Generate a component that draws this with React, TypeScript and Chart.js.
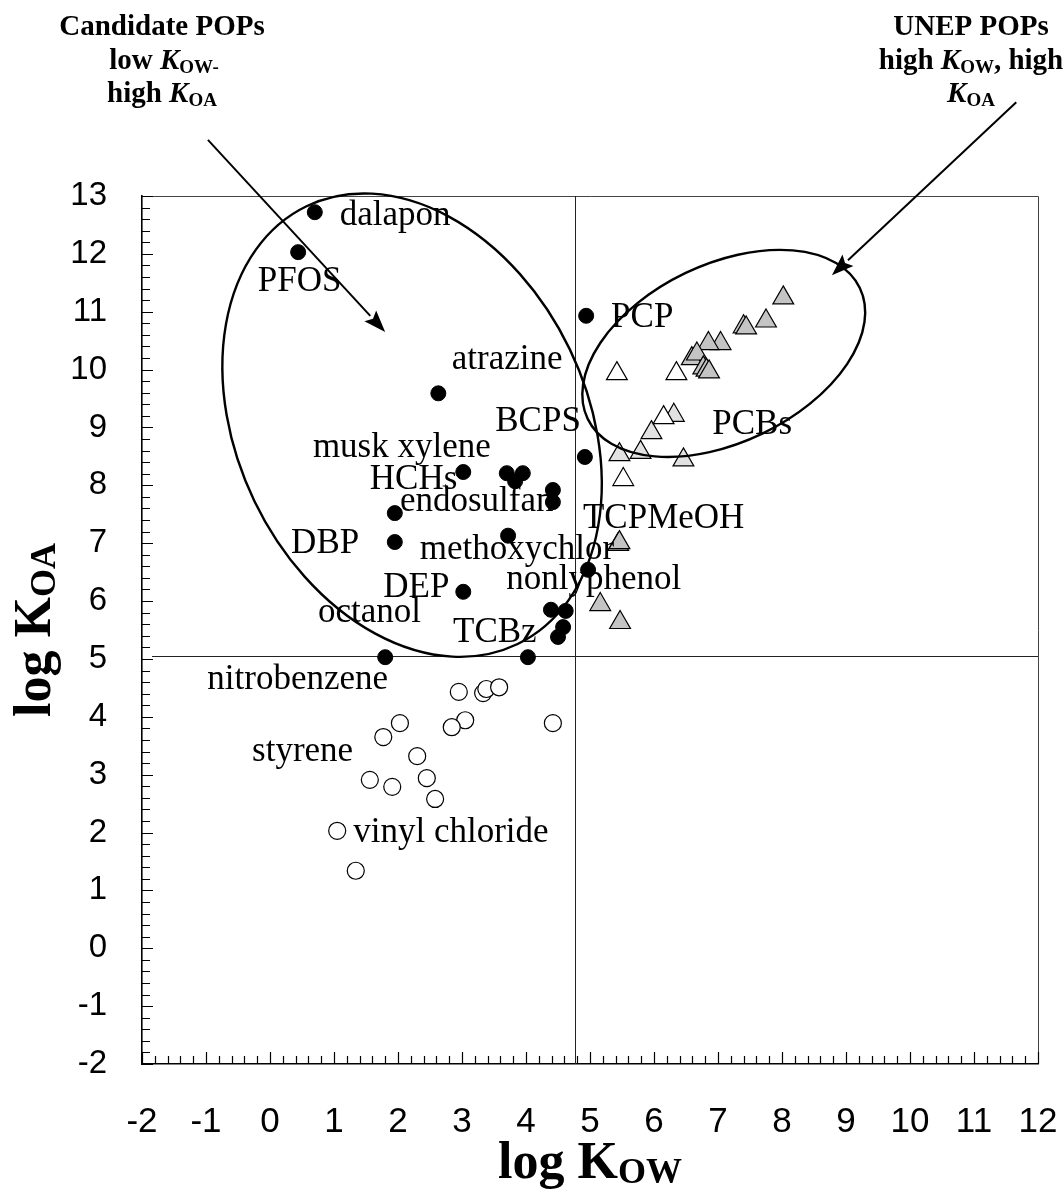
import React, { useEffect, useRef } from "react";
import { Chart, registerables } from "chart.js";
Chart.register(...registerables);

// ---- axis ticks ----
const xTicks = [-2, -1, 0, 1, 2, 3, 4, 5, 6, 7, 8, 9, 10, 11, 12];
const yTicks = [-2, -1, 0, 1, 2, 3, 4, 5, 6, 7, 8, 9, 10, 11, 12, 13];

// ---- candidate POPs (filled circles) ----
const filledX = [0.70, 0.44, 4.94, 2.63, 4.92, 3.02, 3.70, 3.83, 3.95, 4.42, 4.42, 1.95, 1.95, 3.72, 4.97, 3.02, 4.39, 4.62, 4.58, 4.50, 1.80, 4.03];
const filledY = [12.72, 12.03, 10.93, 9.59, 8.49, 8.23, 8.21, 8.07, 8.21, 7.92, 7.71, 7.52, 7.02, 7.13, 6.54, 6.16, 5.85, 5.83, 5.55, 5.38, 5.03, 5.03];

// ---- volatile chemicals (open circles) ----
const openX = [2.95, 3.33, 3.38, 3.58, 4.42, 2.03, 1.77, 3.05, 2.84, 2.30, 1.56, 1.91, 2.45, 2.58, 1.05, 1.34];
const openY = [4.43, 4.41, 4.48, 4.51, 3.89, 3.89, 3.65, 3.94, 3.82, 3.32, 2.91, 2.79, 2.94, 2.58, 2.03, 1.34];

// ---- PCBs / UNEP POPs (triangles) ----
const triDarkX = [8.02, 7.75, 7.40, 7.44, 7.04, 6.85, 6.59, 6.67, 6.77, 6.82, 6.86, 5.44, 5.46, 5.16, 5.47];
const triDarkY = [11.24, 10.84, 10.74, 10.72, 10.45, 10.45, 10.19, 10.27, 10.03, 9.99, 9.96, 6.98, 7.01, 5.94, 5.63];
const triLightX = [6.31, 5.96, 5.79, 5.46, 6.46];
const triLightY = [9.21, 8.91, 8.57, 8.53, 8.44];
const triWhiteX = [5.42, 6.35, 6.15, 5.52];
const triWhiteY = [9.93, 9.93, 9.17, 8.10];

// ---- text labels (left edge x, middle y, in data units) ----
const labelNames = ["dalapon", "PFOS", "PCP", "atrazine", "BCPS", "musk xylene", "HCHs", "endosulfan", "DBP", "methoxychlor", "nonlyphenol", "DEP", "octanol", "TCBz", "TCPMeOH", "PCBs", "nitrobenzene", "styrene", "vinyl chloride"];
const labelX = [1.09, -0.19, 5.33, 2.84, 3.52, 0.67, 1.56, 2.03, 0.33, 2.34, 3.69, 1.77, 0.75, 2.86, 4.89, 6.91, -0.98, -0.28, 1.30];
const labelY = [12.65, 11.51, 10.89, 10.17, 9.09, 8.64, 8.09, 7.71, 6.99, 6.88, 6.36, 6.23, 5.79, 5.45, 7.43, 9.04, 4.64, 3.39, 1.99];

// ---- reference lines ----
const refLineX = 4.77;
const refLineY = 5.05;

// ---- annotation shapes ----
const ellipses = [
  { cx: 2.22, cy: 9.04, a: 243, b: 175, rot: 64.25 },
  { cx: 7.09, cy: 10.28, a: 151, b: 89, rot: -25.7 },
];
const arrows = [
  { x1: -0.97, y1: 13.97, x2: 1.80, y2: 10.65 },
  { x1: 11.66, y1: 14.62, x2: 8.78, y2: 11.63 },
];

const SERIF = '"Liberation Serif", "Times New Roman", serif';
const SANS = '"Liberation Sans", Arial, sans-serif';

type Seg = { t: string; f: string; dy?: number };
function drawRich(ctx: CanvasRenderingContext2D, segs: Seg[], x: number, y: number) {
  let total = 0;
  const widths: number[] = [];
  for (const s of segs) {
    ctx.font = s.f;
    const w = ctx.measureText(s.t).width;
    widths.push(w);
    total += w;
  }
  let cx = x - total / 2;
  segs.forEach((s, i) => {
    ctx.font = s.f;
    ctx.fillText(s.t, cx, y + (s.dy || 0));
    cx += widths[i];
  });
}

const toPoints = (xs: number[], ys: number[]) => xs.map((x, i) => ({ x, y: ys[i] }));

const decorPlugin = {
  id: "decor",
  beforeDatasetsDraw(chart: any) {
    const { ctx, chartArea: ca, scales } = chart;
    const xs = scales.x, ys = scales.y;
    ctx.save();
    // frame top/right
    ctx.strokeStyle = "#444";
    ctx.lineWidth = 1;
    ctx.beginPath();
    ctx.moveTo(ca.left, ca.top + 0.5);
    ctx.lineTo(ca.right + 0.5, ca.top + 0.5);
    ctx.lineTo(ca.right + 0.5, ca.bottom);
    ctx.stroke();
    // reference lines
    ctx.strokeStyle = "#222";
    const px = Math.round(xs.getPixelForValue(refLineX)) + 0.5;
    const py = Math.round(ys.getPixelForValue(refLineY)) + 0.5;
    ctx.beginPath();
    ctx.moveTo(px, ca.top);
    ctx.lineTo(px, ca.bottom);
    ctx.moveTo(ca.left + 10, py);
    ctx.lineTo(ca.right, py);
    ctx.stroke();
    // inward ticks
    ctx.strokeStyle = "#000";
    ctx.lineWidth = 1.2;
    ctx.beginPath();
    for (let i = 0; i <= (xTicks[xTicks.length - 1] - xTicks[0]) * 5; i++) {
      const v = xTicks[0] + i * 0.2;
      const p = Math.round(xs.getPixelForValue(v)) + 0.5;
      const len = i % 5 === 0 ? 12 : 8;
      ctx.moveTo(p, ca.bottom);
      ctx.lineTo(p, ca.bottom - len);
    }
    for (let i = 0; i <= (yTicks[yTicks.length - 1] - yTicks[0]) * 5; i++) {
      const v = yTicks[0] + i * 0.2;
      const p = Math.round(ys.getPixelForValue(v)) + 0.5;
      const len = i % 5 === 0 ? 11 : 8;
      ctx.moveTo(ca.left, p);
      ctx.lineTo(ca.left + len, p);
    }
    ctx.stroke();
    ctx.restore();
  },
  afterDatasetsDraw(chart: any) {
    const { ctx, scales } = chart;
    const xs = scales.x, ys = scales.y;
    ctx.save();
    ctx.strokeStyle = "#000";
    ctx.fillStyle = "#000";
    // ellipses
    ctx.lineWidth = 2.4;
    for (const e of ellipses) {
      ctx.beginPath();
      ctx.ellipse(xs.getPixelForValue(e.cx), ys.getPixelForValue(e.cy), e.a, e.b, (e.rot * Math.PI) / 180, 0, Math.PI * 2);
      ctx.stroke();
    }
    // arrows
    ctx.lineWidth = 2;
    for (const a of arrows) {
      const x1 = xs.getPixelForValue(a.x1), y1 = ys.getPixelForValue(a.y1);
      const x2 = xs.getPixelForValue(a.x2), y2 = ys.getPixelForValue(a.y2);
      const ang = Math.atan2(y2 - y1, x2 - x1);
      const L = 22, W = 8;
      const bx = x2 - L * Math.cos(ang), by = y2 - L * Math.sin(ang);
      ctx.beginPath();
      ctx.moveTo(x1, y1);
      ctx.lineTo(bx, by);
      ctx.stroke();
      ctx.beginPath();
      ctx.moveTo(x2, y2);
      ctx.lineTo(bx - W * Math.sin(ang), by + W * Math.cos(ang));
      ctx.lineTo(bx + 4 * Math.cos(ang), by + 4 * Math.sin(ang));
      ctx.lineTo(bx + W * Math.sin(ang), by - W * Math.cos(ang));
      ctx.closePath();
      ctx.fill();
    }
    // point labels
    ctx.font = `35px ${SERIF}`;
    ctx.textAlign = "left";
    ctx.textBaseline = "middle";
    labelNames.forEach((n, i) => {
      ctx.fillText(n, xs.getPixelForValue(labelX[i]), ys.getPixelForValue(labelY[i]));
    });
    ctx.restore();
  },
  afterDraw(chart: any) {
    const { ctx, chartArea: ca } = chart;
    ctx.save();
    ctx.fillStyle = "#000";
    ctx.textAlign = "left";
    ctx.textBaseline = "alphabetic";
    const b = `bold 29px ${SERIF}`;
    const bi = `italic bold 29px ${SERIF}`;
    const sub = `bold 19px ${SERIF}`;
    // top-left annotation
    drawRich(ctx, [{ t: "Candidate POPs", f: b }], 162, 35);
    drawRich(ctx, [{ t: "low ", f: b }, { t: "K", f: bi }, { t: "OW-", f: sub, dy: 4 }], 164, 69);
    drawRich(ctx, [{ t: "high ", f: b }, { t: "K", f: bi }, { t: "OA", f: sub, dy: 4 }], 162, 102);
    // top-right annotation
    drawRich(ctx, [{ t: "UNEP POPs", f: b }], 971, 35);
    drawRich(ctx, [{ t: "high ", f: b }, { t: "K", f: bi }, { t: "OW", f: sub, dy: 4 }, { t: ", high", f: b }], 971, 69);
    drawRich(ctx, [{ t: "K", f: bi }, { t: "OA", f: sub, dy: 4 }], 971, 102);
    // axis titles
    const tb = `bold 52px ${SERIF}`;
    const ts = `bold 36px ${SERIF}`;
    drawRich(ctx, [{ t: "log K", f: tb }, { t: "OW", f: ts, dy: 5 }], (ca.left + ca.right) / 2, 1178);
    ctx.translate(38, (ca.top + ca.bottom) / 2);
    ctx.rotate(-Math.PI / 2);
    drawRich(ctx, [{ t: "log K", f: tb }, { t: "OA", f: ts, dy: 5 }], 0, 12);
    ctx.restore();
  },
};

export default function App() {
  const ref = useRef<HTMLCanvasElement | null>(null);
  useEffect(() => {
    document.body.style.overflow = "hidden";
    const canvas = ref.current!;
    const chart = new Chart(canvas, {
      type: "scatter",
      data: {
        datasets: [
          {
            label: "candidate",
            data: toPoints(filledX, filledY),
            pointStyle: "circle",
            pointRadius: 7.5,
            backgroundColor: "#000",
            borderColor: "#000",
            borderWidth: 1,
          },
          {
            label: "volatile",
            data: toPoints(openX, openY),
            pointStyle: "circle",
            pointRadius: 8.5,
            backgroundColor: "#fff",
            borderColor: "#000",
            borderWidth: 1.2,
          },
          {
            label: "pcb-white",
            data: toPoints(triWhiteX, triWhiteY),
            pointStyle: "triangle",
            pointRadius: 12,
            backgroundColor: "#fff",
            borderColor: "#000",
            borderWidth: 1.2,
          },
          {
            label: "pcb-light",
            data: toPoints(triLightX, triLightY),
            pointStyle: "triangle",
            pointRadius: 12,
            backgroundColor: "#e2e2e2",
            borderColor: "#000",
            borderWidth: 1.2,
          },
          {
            label: "pcb-dark",
            data: toPoints(triDarkX, triDarkY),
            pointStyle: "triangle",
            pointRadius: 12,
            backgroundColor: "#c4c4c4",
            borderColor: "#000",
            borderWidth: 1.2,
          },
        ],
      },
      options: {
        responsive: false,
        animation: false,
        devicePixelRatio: 1,
        events: [],
        layout: { padding: { top: 196, right: 26, left: 0, bottom: 0 } },
        plugins: { legend: { display: false }, tooltip: { enabled: false } },
        scales: {
          x: {
            type: "linear",
            min: xTicks[0],
            max: xTicks[xTicks.length - 1],
            grid: { display: false, drawTicks: false },
            border: { display: true, color: "#000", width: 1.6 },
            ticks: {
              color: "#000",
              font: { family: SANS, size: 35 },
              padding: 37,
              maxRotation: 0,
              autoSkip: false,
            },
            afterBuildTicks: (s: any) => {
              s.ticks = xTicks.map((v) => ({ value: v }));
            },
            afterFit: (s: any) => {
              s.height = 129;
              s.paddingLeft = 0;
              s.paddingRight = 0;
            },
          },
          y: {
            type: "linear",
            min: yTicks[0],
            max: yTicks[yTicks.length - 1],
            grid: { display: false, drawTicks: false },
            border: { display: true, color: "#000", width: 1.6 },
            ticks: {
              color: "#000",
              font: { family: SANS, size: 33 },
              padding: 35,
              autoSkip: false,
            },
            afterBuildTicks: (s: any) => {
              s.ticks = yTicks.map((v) => ({ value: v }));
            },
            afterFit: (s: any) => {
              s.width = 142;
              s.paddingTop = 0;
              s.paddingBottom = 0;
            },
          },
        },
      } as any,
      plugins: [decorPlugin],
    });
    return () => chart.destroy();
  }, []);
  return (
    <div style={{ position: "absolute", left: 0, top: 0, width: 1064, height: 1193 }}>
      <canvas ref={ref} width={1064} height={1193} style={{ display: "block", width: 1064, height: 1193 }} />
    </div>
  );
}
